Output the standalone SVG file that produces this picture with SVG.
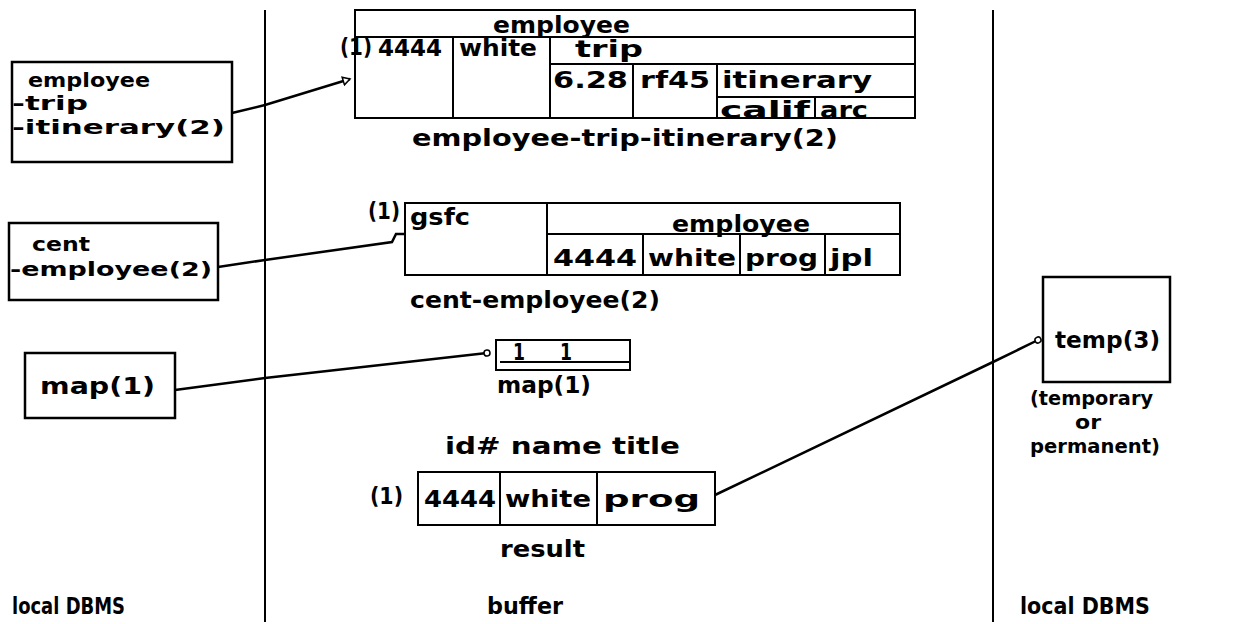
<svg xmlns="http://www.w3.org/2000/svg" width="1250" height="624" viewBox="0 0 1250 624">
<style>
text{font-family:"DejaVu Sans","Liberation Sans",sans-serif;font-weight:bold;font-size:23px;fill:#000}
text.s{font-size:20px}
.b{fill:none;stroke:#000;stroke-width:2.5}
.t{fill:none;stroke:#000;stroke-width:2}
.c{fill:none;stroke:#000;stroke-width:2.5}
.v{stroke:#000;stroke-width:2}
</style>
<defs>
<marker id="tri" markerWidth="10" markerHeight="10" refX="8" refY="5" orient="auto" markerUnits="userSpaceOnUse">
<path d="M1,1 L8,5 L1,9 Z" fill="#fff" stroke="#000" stroke-width="1.5"/>
</marker>
<marker id="dot" markerWidth="10" markerHeight="10" refX="5" refY="5" orient="auto" markerUnits="userSpaceOnUse">
<circle cx="5" cy="5" r="3" fill="#fff" stroke="#000" stroke-width="1.5"/>
</marker>
</defs>
<rect width="1250" height="624" fill="#fff"/>
<g id="dividers">
<line class="v" x1="265" y1="10" x2="265" y2="622"/>
<line class="v" x1="993" y1="10" x2="993" y2="622"/>
</g>
<g id="connectors">
<polyline class="c" points="232,113 265,105 350,79" marker-end="url(#tri)"/>
<polyline class="c" points="218,267 265,260 392,242 396,234 404,234"/>
<polyline class="c" points="175,390 265,378 487,353" marker-end="url(#dot)"/>
<polyline class="c" points="715,495 993,362 1038,340" marker-end="url(#dot)"/>
</g>
<g id="box-eti">
<rect class="b" x="12" y="62" width="220" height="100"/>
<text class="s" x="28" y="87" textLength="122" lengthAdjust="spacingAndGlyphs">employee</text>
<text class="s" x="12" y="110" textLength="76" lengthAdjust="spacingAndGlyphs">-trip</text>
<text class="s" x="12" y="134" textLength="213" lengthAdjust="spacingAndGlyphs">-itinerary(2)</text>
</g>
<g id="box-ce">
<rect class="b" x="9" y="223" width="209" height="77"/>
<text class="s" x="32" y="251" textLength="58" lengthAdjust="spacingAndGlyphs">cent</text>
<text class="s" x="10" y="276" textLength="202" lengthAdjust="spacingAndGlyphs">-employee(2)</text>
</g>
<g id="box-map">
<rect class="b" x="25" y="353" width="150" height="65"/>
<text x="40" y="394" textLength="115" lengthAdjust="spacingAndGlyphs">map(1)</text>
</g>
<g id="table-eti">
<rect class="t" x="355" y="10" width="560" height="108"/>
<line class="t" x1="355" y1="37" x2="915" y2="37"/>
<line class="t" x1="453" y1="37" x2="453" y2="118"/>
<line class="t" x1="550" y1="37" x2="550" y2="118"/>
<line class="t" x1="550" y1="64" x2="915" y2="64"/>
<line class="t" x1="633" y1="64" x2="633" y2="118"/>
<line class="t" x1="717" y1="64" x2="717" y2="118"/>
<line class="t" x1="717" y1="97" x2="915" y2="97"/>
<line class="t" x1="815" y1="97" x2="815" y2="118"/>
<text x="493" y="33" textLength="137" lengthAdjust="spacingAndGlyphs">employee</text>
<text x="340" y="55" textLength="32" lengthAdjust="spacingAndGlyphs">(1)</text>
<text x="378" y="56" textLength="64" lengthAdjust="spacingAndGlyphs">4444</text>
<text x="459" y="56" textLength="78" lengthAdjust="spacingAndGlyphs">white</text>
<text x="575" y="57" textLength="68" lengthAdjust="spacingAndGlyphs">trip</text>
<text x="553" y="88" textLength="75" lengthAdjust="spacingAndGlyphs">6.28</text>
<text x="640" y="88" textLength="70" lengthAdjust="spacingAndGlyphs">rf45</text>
<text x="722" y="88" textLength="150" lengthAdjust="spacingAndGlyphs">itinerary</text>
<text x="720" y="118" textLength="90" lengthAdjust="spacingAndGlyphs">calif</text>
<text x="820" y="118" textLength="48" lengthAdjust="spacingAndGlyphs">arc</text>
<text x="412" y="146" textLength="426" lengthAdjust="spacingAndGlyphs">employee-trip-itinerary(2)</text>
</g>
<g id="table-ce">
<rect class="t" x="405" y="203" width="495" height="72"/>
<line class="t" x1="547" y1="203" x2="547" y2="275"/>
<line class="t" x1="547" y1="234" x2="900" y2="234"/>
<line class="t" x1="643" y1="234" x2="643" y2="275"/>
<line class="t" x1="740" y1="234" x2="740" y2="275"/>
<line class="t" x1="825" y1="234" x2="825" y2="275"/>
<text x="368" y="219" textLength="32" lengthAdjust="spacingAndGlyphs">(1)</text>
<text x="410" y="225" textLength="60" lengthAdjust="spacingAndGlyphs">gsfc</text>
<text x="672" y="232" textLength="138" lengthAdjust="spacingAndGlyphs">employee</text>
<text x="553" y="266" textLength="84" lengthAdjust="spacingAndGlyphs">4444</text>
<text x="648" y="266" textLength="88" lengthAdjust="spacingAndGlyphs">white</text>
<text x="745" y="266" textLength="73" lengthAdjust="spacingAndGlyphs">prog</text>
<text x="830" y="266" textLength="43" lengthAdjust="spacingAndGlyphs">jpl</text>
<text x="410" y="308" textLength="250" lengthAdjust="spacingAndGlyphs">cent-employee(2)</text>
</g>
<g id="table-map">
<rect class="t" x="496" y="340" width="134" height="30"/>
<line class="t" x1="500" y1="362" x2="630" y2="362"/>
<text x="513" y="360" textLength="12" lengthAdjust="spacingAndGlyphs">1</text>
<text x="560" y="360" textLength="12" lengthAdjust="spacingAndGlyphs">1</text>
<text x="497" y="393" textLength="94" lengthAdjust="spacingAndGlyphs">map(1)</text>
</g>
<g id="table-result">
<text x="445" y="454" textLength="235" lengthAdjust="spacingAndGlyphs">id#  name title</text>
<text x="370" y="504" textLength="33" lengthAdjust="spacingAndGlyphs">(1)</text>
<rect class="t" x="418" y="472" width="297" height="53"/>
<line class="t" x1="500" y1="472" x2="500" y2="525"/>
<line class="t" x1="597" y1="472" x2="597" y2="525"/>
<text x="424" y="507" textLength="72" lengthAdjust="spacingAndGlyphs">4444</text>
<text x="505" y="507" textLength="86" lengthAdjust="spacingAndGlyphs">white</text>
<text x="603" y="507" textLength="97" lengthAdjust="spacingAndGlyphs">prog</text>
<text x="500" y="557" textLength="85" lengthAdjust="spacingAndGlyphs">result</text>
</g>
<g id="box-temp">
<rect class="b" x="1043" y="277" width="127" height="105"/>
<text x="1055" y="348" textLength="105" lengthAdjust="spacingAndGlyphs">temp(3)</text>
<text class="s" x="1030" y="405" textLength="123" lengthAdjust="spacingAndGlyphs">(temporary</text>
<text class="s" x="1075" y="429" textLength="26" lengthAdjust="spacingAndGlyphs">or</text>
<text class="s" x="1030" y="453" textLength="130" lengthAdjust="spacingAndGlyphs">permanent)</text>
</g>
<g id="labels">
<text x="12" y="614" textLength="113" lengthAdjust="spacingAndGlyphs">local DBMS</text>
<text x="487" y="614" textLength="76" lengthAdjust="spacingAndGlyphs">buffer</text>
<text x="1020" y="614" textLength="130" lengthAdjust="spacingAndGlyphs">local DBMS</text>
</g>
</svg>
